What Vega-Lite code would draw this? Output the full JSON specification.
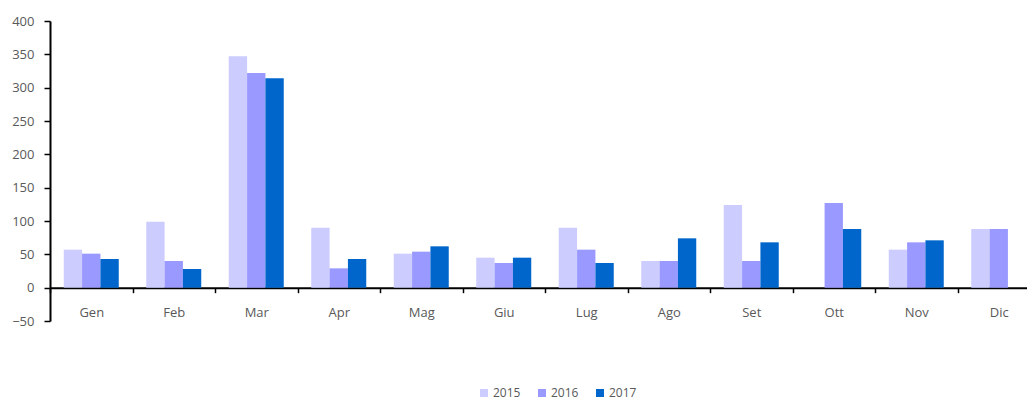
{
  "$schema": "https://vega.github.io/schema/vega-lite/v6.json",
  "autosize": {"type": "none"},
  "padding": {"left": 50, "top": 21, "right": 0, "bottom": 79},
  "width": 990,
  "height": 300,
  "config": {
    "view": {"stroke": null},
    "font": "Open Sans",
    "axis": {"labelFont": "Open Sans", "labelFontSize": 13, "labelColor": "#595959", "grid": false, "domainColor": "#000000", "tickColor": "#000000", "domainWidth": 2, "tickWidth": 1.5},
    "legend": {"labelFont": "Open Sans", "labelFontSize": 12, "labelColor": "#595959"}
  },
  "data": {
    "values": [
      {"month": "Gen", "year": "2015", "value": 57},
      {"month": "Gen", "year": "2016", "value": 51},
      {"month": "Gen", "year": "2017", "value": 43},
      {"month": "Feb", "year": "2015", "value": 99},
      {"month": "Feb", "year": "2016", "value": 40},
      {"month": "Feb", "year": "2017", "value": 28},
      {"month": "Mar", "year": "2015", "value": 347},
      {"month": "Mar", "year": "2016", "value": 322},
      {"month": "Mar", "year": "2017", "value": 314},
      {"month": "Apr", "year": "2015", "value": 90},
      {"month": "Apr", "year": "2016", "value": 29},
      {"month": "Apr", "year": "2017", "value": 43},
      {"month": "Mag", "year": "2015", "value": 51},
      {"month": "Mag", "year": "2016", "value": 54},
      {"month": "Mag", "year": "2017", "value": 62},
      {"month": "Giu", "year": "2015", "value": 45},
      {"month": "Giu", "year": "2016", "value": 37},
      {"month": "Giu", "year": "2017", "value": 45},
      {"month": "Lug", "year": "2015", "value": 90},
      {"month": "Lug", "year": "2016", "value": 57},
      {"month": "Lug", "year": "2017", "value": 37},
      {"month": "Ago", "year": "2015", "value": 40},
      {"month": "Ago", "year": "2016", "value": 40},
      {"month": "Ago", "year": "2017", "value": 74},
      {"month": "Set", "year": "2015", "value": 124},
      {"month": "Set", "year": "2016", "value": 40},
      {"month": "Set", "year": "2017", "value": 68},
      {"month": "Ott", "year": "2015", "value": 0},
      {"month": "Ott", "year": "2016", "value": 127},
      {"month": "Ott", "year": "2017", "value": 88},
      {"month": "Nov", "year": "2015", "value": 57},
      {"month": "Nov", "year": "2016", "value": 68},
      {"month": "Nov", "year": "2017", "value": 71},
      {"month": "Dic", "year": "2015", "value": 88},
      {"month": "Dic", "year": "2016", "value": 88},
      {"month": "Dic", "year": "2017", "value": null}
    ]
  },
  "mark": {"type": "bar"},
  "encoding": {
    "x": {
      "field": "month", "type": "nominal", "sort": null, "title": null,
      "scale": {"paddingInner": 0, "paddingOuter": 0},
      "axis": {"labelAngle": 0, "offset": -33.33, "tickBand": "extent", "tickSize": 5, "labelPadding": 14, "domainWidth": 2}
    },
    "xOffset": {"field": "year", "type": "nominal", "scale": {"paddingInner": 0, "paddingOuter": 0.75}},
    "y": {
      "field": "value", "type": "quantitative", "title": null,
      "scale": {"domain": [-50, 400], "nice": false, "zero": false},
      "axis": {"values": [-50, 0, 50, 100, 150, 200, 250, 300, 350, 400], "tickSize": 6, "labelPadding": 10}
    },
    "color": {
      "field": "year", "type": "nominal", "title": null,
      "scale": {"domain": ["2015", "2016", "2017"], "range": ["#CCCCFF", "#9999FF", "#0066CC"]},
      "legend": {"orient": "none", "direction": "horizontal", "legendX": 428, "legendY": 366, "symbolType": "square", "symbolSize": 64, "symbolStrokeWidth": 0, "columnPadding": 15, "labelOffset": 3}
    }
  }
}
